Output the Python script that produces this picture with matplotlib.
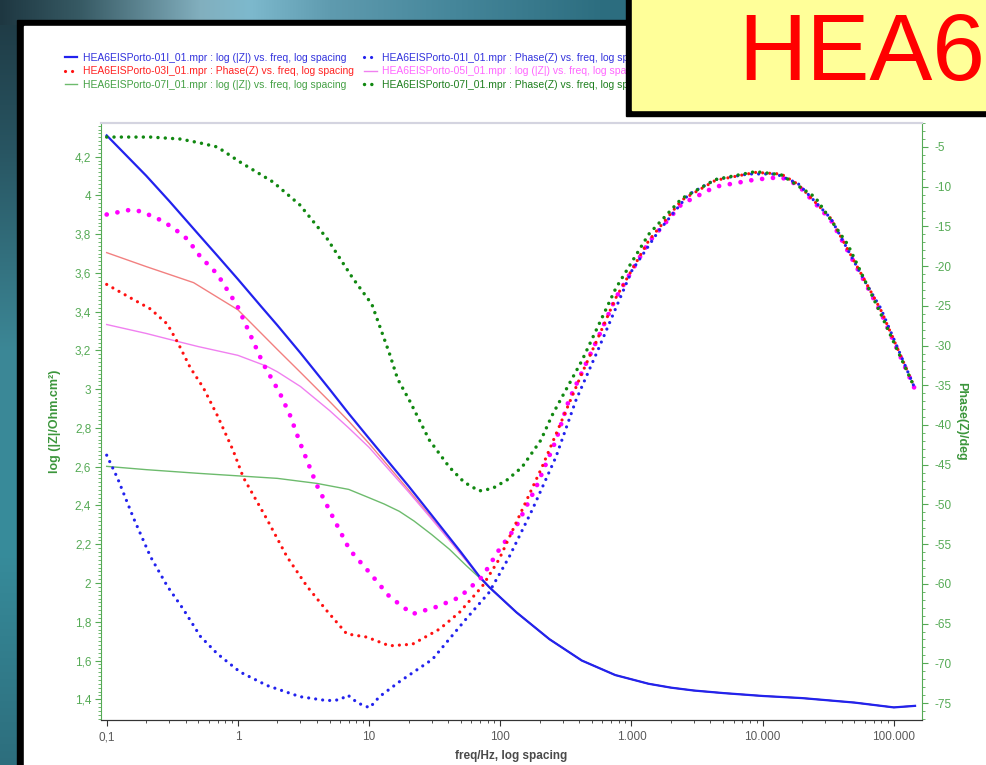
import numpy as np
import matplotlib
matplotlib.use("Agg")
import matplotlib.pyplot as plt
from matplotlib.patches import Rectangle
from matplotlib.ticker import FixedLocator, FixedFormatter, NullFormatter, LogLocator, MultipleLocator

plt.rcParams['font.family'] = ['Liberation Sans', 'DejaVu Sans']

# ---------------- data ----------------
legend_labels = {
    'z01': 'HEA6EISPorto-01I_01.mpr : log (|Z|) vs. freq, log spacing',
    'ph01': 'HEA6EISPorto-01I_01.mpr : Phase(Z) vs. freq, log spacing',
    'ph03': 'HEA6EISPorto-03I_01.mpr : Phase(Z) vs. freq, log spacing',
    'z05': 'HEA6EISPorto-05I_01.mpr : log (|Z|) vs. freq, log spacing',
    'z07': 'HEA6EISPorto-07I_01.mpr : log (|Z|) vs. freq, log spacing',
    'ph07': 'HEA6EISPorto-07I_01.mpr : Phase(Z) vs. freq, log spacing',
}

freq_z_01 = [0.1, 0.2, 0.3, 0.5, 0.7, 1, 1.5, 2, 3, 5, 7, 10, 20, 30, 50, 70, 82.6, 132.6, 237,
             418, 752, 1350, 2000, 3000, 5000, 10000, 20000, 50000, 100000, 145000]
logz_01 = [4.31, 4.102, 3.971, 3.80, 3.688, 3.568, 3.428, 3.33, 3.187, 3.0, 2.874, 2.746, 2.50,
           2.35, 2.16, 2.03, 1.978, 1.849, 1.71, 1.60, 1.525, 1.48, 1.46, 1.445, 1.432, 1.417,
           1.406, 1.383, 1.358, 1.366]

freq_z_03 = [0.1, 0.2, 0.46, 1, 2, 3, 5, 7, 10, 20, 30, 50, 70, 82.6, 132.6, 237, 418, 752, 1350,
             2000, 3000, 5000, 10000, 20000, 50000, 100000, 145000]
logz_03 = [3.705, 3.633, 3.55, 3.41, 3.205, 3.087, 2.937, 2.835, 2.72, 2.48, 2.335, 2.15, 2.03,
           1.978, 1.849, 1.71, 1.60, 1.525, 1.48, 1.46, 1.445, 1.432, 1.417, 1.406, 1.383,
           1.358, 1.366]

freq_z_05 = [0.1, 0.2, 0.35, 0.5, 1, 1.67, 2, 3, 5, 7, 10, 20, 30, 50, 70, 82.6, 132.6, 237, 418,
             752, 1350, 2000, 3000, 5000, 10000, 20000, 50000, 100000, 145000]
logz_05 = [3.334, 3.288, 3.246, 3.22, 3.175, 3.118, 3.09, 3.014, 2.89, 2.80, 2.70, 2.47, 2.33,
           2.15, 2.03, 1.978, 1.849, 1.71, 1.60, 1.525, 1.48, 1.46, 1.445, 1.432, 1.417, 1.406,
           1.383, 1.358, 1.366]

freq_z_07 = [0.1, 0.2, 0.5, 1, 2, 4, 7, 10, 13, 17, 22, 30, 41, 55, 70, 82.6, 132.6, 237, 418,
             752, 1350, 2000, 3000, 5000, 10000, 20000, 50000, 100000, 145000]
logz_07 = [2.602, 2.585, 2.566, 2.553, 2.54, 2.514, 2.483, 2.44, 2.408, 2.37, 2.32, 2.25, 2.174,
           2.09, 2.025, 1.978, 1.849, 1.71, 1.60, 1.525, 1.48, 1.46, 1.445, 1.432, 1.417, 1.406,
           1.383, 1.358, 1.366]

freq_ph_01 = [0.1, 0.121, 0.16, 0.216, 0.29, 0.384, 0.517, 0.697, 1.04, 1.67, 2.97, 4.77, 5.98,
              6.88, 8.2, 10.1, 12.0, 17.1, 30.4, 55, 82, 117, 175, 266, 377, 564, 759, 1004, 1608,
              2716, 4365, 7770, 12670, 18600, 33100, 60000, 79400, 143800]
phase_01 = [-43.8, -46.7, -51.7, -56.6, -60.3, -63.2, -66.6, -68.8, -71.1, -72.8, -74.2, -74.7,
            -74.6, -74.0, -75.0, -75.6, -74.2, -72.3, -69.5, -64.4, -61.1, -56.6, -50.7, -44.0,
            -36.9, -30.3, -25.3, -20.6, -15.6, -11.0, -9.1, -8.4, -8.4, -9.6, -14.0, -21.9, -25.3,
            -35.3]

freq_ph_03 = [0.1, 0.152, 0.216, 0.29, 0.35, 0.434, 0.545, 0.697, 0.92, 1.10, 1.67, 2.37, 3.36,
              4.77, 6.76, 9.6, 14.3, 21.4, 34.4, 48.8, 73, 98, 146.6, 208, 295, 419, 564, 759,
              1352, 2409, 4365, 8790, 13840, 18600, 33100, 60000, 79400, 143800]
phase_03 = [-22.3, -24.0, -25.4, -27.3, -29.7, -32.8, -35.3, -38.8, -43.2, -46.6, -51.9, -56.6,
            -60.3, -63.4, -66.3, -66.7, -67.8, -67.6, -65.7, -63.6, -60.3, -56.9, -50.7, -45.3,
            -39.4, -33.5, -28.8, -24.0, -16.8, -11.7, -9.2, -8.2, -8.4, -9.7, -14.0, -21.8, -25.5,
            -35.3]

freq_ph_05 = [0.1, 0.152, 0.181, 0.244, 0.317, 0.412, 0.517, 0.697, 0.99, 1.18, 1.56, 2.09, 2.50,
              2.97, 4.0, 5.3, 7.1, 10.1, 14.3, 21.4, 32.6, 48.8, 73, 98, 132, 188, 266, 333, 564,
              759, 1352, 2409, 4365, 8790, 13840, 18600, 33100, 60000, 79400, 143800]
phase_05 = [-13.5, -12.9, -13.1, -14.0, -15.1, -16.6, -18.8, -21.0, -25.0, -27.8, -32.3, -36.0,
            -38.8, -42.2, -47.6, -51.6, -55.7, -58.6, -61.6, -63.8, -62.9, -61.7, -59.1, -55.7,
            -52.8, -47.8, -41.9, -36.9, -28.8, -24.0, -17.0, -12.2, -10.0, -9.1, -8.8, -9.8,
            -14.2, -22.0, -25.8, -35.4]

freq_ph_07 = [0.1, 0.216, 0.365, 0.517, 0.697, 1.04, 1.85, 2.97, 4.77, 7.5, 10.5, 14.3, 16.5,
              20.3, 28.8, 40.9, 53, 69, 87, 113, 146.6, 204, 248, 295, 419, 759, 1352, 2409,
              4365, 8790, 13840, 25060, 44600, 79400, 143800]
phase_07 = [-3.75, -3.75, -4.0, -4.5, -5.0, -6.9, -9.4, -12.3, -16.5, -21.5, -24.8, -31.0, -34.2,
            -36.9, -41.9, -45.3, -47.2, -48.3, -48.0, -46.9, -45.3, -41.9, -38.8, -36.5, -31.9,
            -22.8, -16.0, -11.5, -9.1, -8.1, -8.5, -11.3, -17.3, -26.0, -35.3]

x_ticks = [0.1, 1, 10, 100, 1000, 10000, 100000]
x_ticklabels = ['0,1', '1', '10', '100', '1.000', '10.000', '100.000']
y_ticks = [1.4, 1.6, 1.8, 2.0, 2.2, 2.4, 2.6, 2.8, 3.0, 3.2, 3.4, 3.6, 3.8, 4.0, 4.2]
y_ticklabels = ['1,4', '1,6', '1,8', '2', '2,2', '2,4', '2,6', '2,8', '3', '3,2', '3,4', '3,6',
                '3,8', '4', '4,2']
y2_ticks = [-75, -70, -65, -60, -55, -50, -45, -40, -35, -30, -25, -20, -15, -10, -5]
y2_ticklabels = ['-75', '-70', '-65', '-60', '-55', '-50', '-45', '-40', '-35', '-30', '-25',
                 '-20', '-15', '-10', '-5']

# ---------------- figure & decorations ----------------
W, H = 987, 765
fig = plt.figure(figsize=(W / 100, H / 100), dpi=100)

bg = fig.add_axes([0, 0, 1, 1], zorder=-5)
xs = np.arange(W)
ys = np.arange(H)
top_x = [0, 80, 200, 250, 330, 450, 600, 987]
top_c = np.array([(30, 55, 65), (55, 90, 100), (130, 175, 190), (125, 185, 205), (95, 155, 175),
                  (70, 135, 155), (45, 110, 128), (40, 100, 120)]) / 255.0
left_y = [0, 150, 350, 550, 765]
left_c = np.array([(30, 55, 65), (40, 85, 98), (60, 135, 150), (55, 140, 155),
                   (45, 110, 125)]) / 255.0
img = np.zeros((H, W, 3))
for k in range(3):
    img[:, :, k] = np.interp(xs, top_x, top_c[:, k])[None, :]
    img[25:, :30, k] = np.interp(ys[25:], left_y, left_c[:, k])[:, None]
bg.imshow(img, extent=(0, W, H, 0), aspect='auto', interpolation='bilinear')
bg.add_patch(Rectangle((17, 20), 1100, 900, color='black'))
bg.add_patch(Rectangle((24, 26), 1100, 900, color='white'))
bg.set_xlim(0, W)
bg.set_ylim(H, 0)
bg.axis('off')

ax = fig.add_axes([101 / W, 45 / H, 820.7 / W, 597 / H])
ax2 = ax.twinx()

GREEN_AX = '#55AA55'
c_blue = '#2222EE'
c_red = '#FF1111'
c_salmon = '#F28080'
c_magenta = '#FF00FF'
c_pink = '#F080F0'
c_green_line = '#6DBB6D'
c_green_dot = '#118811'

# |Z| solid lines
l_z01, = ax.plot(freq_z_01, logz_01, color=c_blue, lw=1.6, zorder=3)
l_z03, = ax.plot(freq_z_03, logz_03, color=c_salmon, lw=1.0, zorder=2)
l_z05, = ax.plot(freq_z_05, logz_05, color=c_pink, lw=1.0, zorder=2)
l_z07, = ax.plot(freq_z_07, logz_07, color=c_green_line, lw=1.0, zorder=2)


def dotted(a, f, v, color, lw, gap, z):
    ln, = a.plot(f, v, color=color, lw=lw, linestyle=(0, (0.01, gap)),
                 dash_capstyle='round', zorder=z)
    return ln


l_ph05 = dotted(ax2, freq_ph_05, phase_05, c_magenta, 3.4, 2.3, 2)
l_ph03 = dotted(ax2, freq_ph_03, phase_03, c_red, 2.3, 2.2, 3)
l_ph01 = dotted(ax2, freq_ph_01, phase_01, c_blue, 2.3, 2.2, 3)
l_ph07 = dotted(ax2, freq_ph_07, phase_07, c_green_dot, 2.5, 2.1, 4)

ax.set_xscale('log')
ax.set_xlim(0.0905, 1.63e5)
ax.set_ylim(1.293, 4.374)
ax2.set_ylim(-77.14, -1.98)

ax.xaxis.set_major_locator(FixedLocator(x_ticks))
ax.xaxis.set_major_formatter(FixedFormatter(x_ticklabels))
ax.xaxis.set_minor_locator(LogLocator(base=10, subs=np.arange(2, 10), numticks=20))
ax.xaxis.set_minor_formatter(NullFormatter())
ax.yaxis.set_major_locator(FixedLocator(y_ticks))
ax.yaxis.set_major_formatter(FixedFormatter(y_ticklabels))
ax.yaxis.set_minor_locator(MultipleLocator(0.02))
ax2.yaxis.set_major_locator(FixedLocator(y2_ticks))
ax2.yaxis.set_major_formatter(FixedFormatter(y2_ticklabels))
ax2.yaxis.set_minor_locator(MultipleLocator(1))

ax.tick_params(axis='x', which='major', length=4, width=0.8, color='#333333',
               labelsize=8.5, labelcolor='#5a5a5a', pad=4)
ax.tick_params(axis='x', which='minor', length=2.5, width=0.6, color='#333333')
ax.tick_params(axis='y', which='major', length=4, width=0.8, color=GREEN_AX,
               labelsize=8.5, labelcolor=GREEN_AX, pad=3)
ax.tick_params(axis='y', which='minor', length=2, width=0.6, color=GREEN_AX)
ax2.tick_params(axis='y', which='major', length=4, width=0.8, color=GREEN_AX,
                labelsize=8.5, labelcolor=GREEN_AX, pad=5)
ax2.tick_params(axis='y', which='minor', length=2, width=0.6, color=GREEN_AX)

for a in (ax, ax2):
    a.spines['left'].set_color(GREEN_AX)
    a.spines['right'].set_color(GREEN_AX)
    a.spines['bottom'].set_color('#333333')
    a.spines['top'].set_color('#d4d4e0')
    a.spines['top'].set_linewidth(1.5)
ax2.spines['left'].set_visible(False)
ax.spines['right'].set_visible(False)

ax.set_xlabel('freq/Hz, log spacing', fontsize=8.5, fontweight='bold', color='#4a4a4a')
ax.xaxis.set_label_coords(0.5, -0.05)
ax.set_ylabel('log (|Z|/Ohm.cm²)', fontsize=9, fontweight='bold', color='#3c963c')
ax.yaxis.set_label_coords(-0.049, 0.5)
ax2.set_ylabel('Phase(Z)/deg', fontsize=9, fontweight='bold', color='#3c963c', rotation=-90,
               va='center')
ax2.yaxis.set_label_coords(1.048, 0.5)

# legend (column-major order, 2 visible columns)
handles = [l_z01, l_ph03, l_z07, l_ph01, l_z05, l_ph07]
keys = ['z01', 'ph03', 'z07', 'ph01', 'z05', 'ph07']
text_colors = ['#3333DD', '#FF2222', '#44A044', '#3333DD', '#FF66FF', '#1E7F1E']
leg = fig.legend(handles, [legend_labels[k] for k in keys], ncol=2, loc='upper left',
                 bbox_to_anchor=(65 / W, 1 - 53 / H), frameon=False, fontsize=7.5,
                 handlelength=1.2, handletextpad=0.5, columnspacing=1.0,
                 labelspacing=0.32, borderpad=0, borderaxespad=0)
for t, c in zip(leg.get_texts(), text_colors):
    t.set_color(c)

# yellow note box at top right
fig.add_artist(Rectangle((626 / W, (H - 116) / H), 400 / W, 200 / H, color='black', zorder=20,
                         transform=fig.transFigure))
fig.add_artist(Rectangle((632 / W, (H - 110) / H), 400 / W, 200 / H, color='#FFFF99', zorder=21,
                         transform=fig.transFigure))
fig.text(738 / W, (H - 80) / H, 'HEA6', fontsize=68, color='#FF0000', zorder=22,
         va='baseline', ha='left')

fig.savefig('out.png', dpi=100)
